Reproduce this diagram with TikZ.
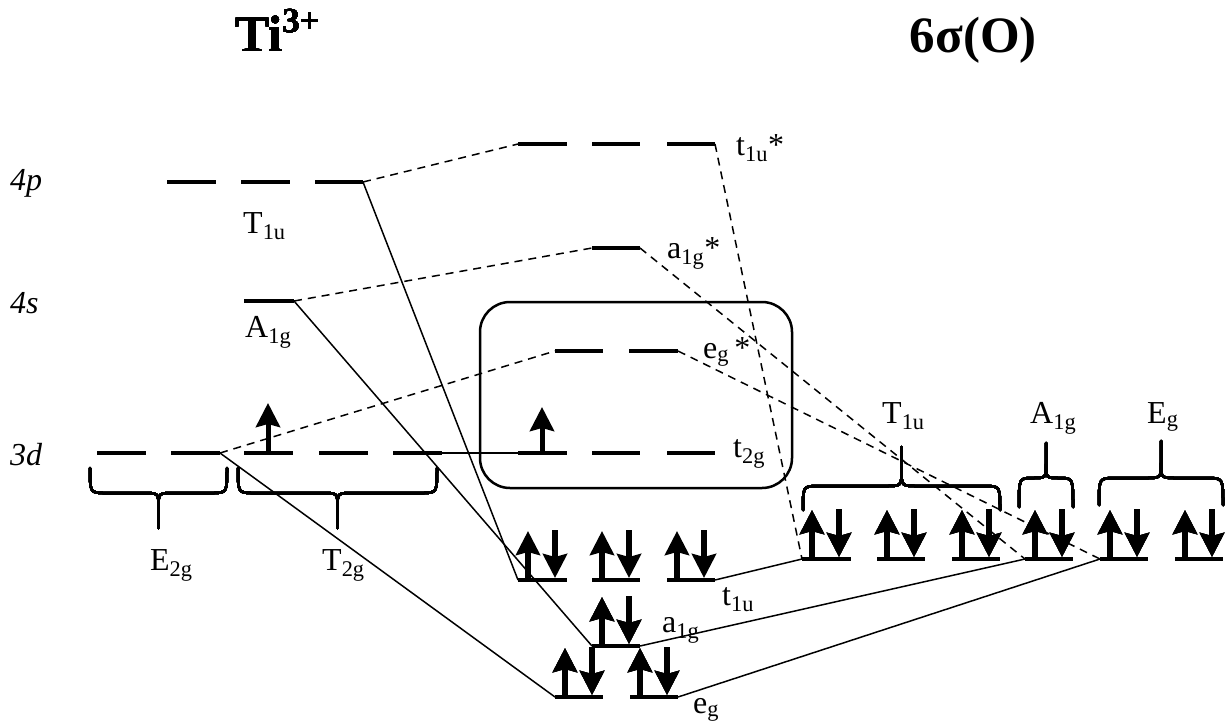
\documentclass[tikz,border=0pt]{standalone}
\usepackage{fontspec}
\setmainfont{Liberation Serif}
\usetikzlibrary{arrows.meta}
\tikzset{
 level/.style={line width=4pt},
 conn/.style={line width=1.5pt},
 dconn/.style={line width=1.5pt, dash pattern=on 8pt off 6pt},
 brc/.style={line width=2.5pt, line cap=round},
 el/.style={line width=5.5pt, -{Stealth[length=24pt,width=24pt,inset=3pt]}},
 lab/.style={font=\fontsize{32}{38}\selectfont, inner sep=0pt, anchor=base west},
 ilab/.style={lab, font=\fontsize{32}{38}\selectfont\itshape},
 ttl/.style={font=\fontsize{51}{60}\selectfont\bfseries, inner sep=0pt},
 frame/.style={line width=2.5pt, rounded corners=30pt},
}
\newcommand\epair[2]{\draw[el] (#1+10,#2) -- (#1+10,#2-49); \draw[el] (#1+37,#2-50) -- (#1+37,#2-2);}
\newcommand\mybrc[6]{%
 \draw[brc] (#1,#3) .. controls (#1,#4) and (#1,#4) .. (#1+#6,#4) -- ({(#1+#2)/2-#6},#4) .. controls ({(#1+#2)/2},#4) and ({(#1+#2)/2},#4) .. ({(#1+#2)/2},{#4+0.4*(#5-#4)}) -- ({(#1+#2)/2},#5);
 \draw[brc] ({(#1+#2)/2},{#4+0.4*(#5-#4)}) .. controls ({(#1+#2)/2},#4) and ({(#1+#2)/2},#4) .. ({(#1+#2)/2+#6},#4) -- (#2-#6,#4) .. controls (#2,#4) and (#2,#4) .. (#2,#3);
}
\begin{document}
\begin{tikzpicture}[x=1pt,y=-1pt]
\useasboundingbox (0,0) rectangle (1225,726);
% coordinates of levels
\coordinate (p4a-l) at (167,182); \coordinate (p4a-r) at (216,182);
\coordinate (p4b-l) at (241,182); \coordinate (p4b-r) at (290,182);
\coordinate (p4c-l) at (315,182); \coordinate (p4c-r) at (363,182);
\coordinate (s4-l) at (244,301); \coordinate (s4-r) at (294,301);
\coordinate (d1-l) at (97,453); \coordinate (d1-r) at (146,453);
\coordinate (d2-l) at (171,453); \coordinate (d2-r) at (220,453);
\coordinate (d3-l) at (244,453); \coordinate (d3-r) at (293,453);
\coordinate (d4-l) at (319,453); \coordinate (d4-r) at (368,453);
\coordinate (d5-l) at (393,453); \coordinate (d5-r) at (442,453);
\coordinate (ts1-l) at (518,144); \coordinate (ts1-r) at (567,144);
\coordinate (ts2-l) at (592,144); \coordinate (ts2-r) at (640,144);
\coordinate (ts3-l) at (667,144); \coordinate (ts3-r) at (715,144);
\coordinate (as-l) at (592,248); \coordinate (as-r) at (640,248);
\coordinate (es1-l) at (555,351); \coordinate (es1-r) at (603,351);
\coordinate (es2-l) at (629,351); \coordinate (es2-r) at (678,351);
\coordinate (tg1-l) at (518,453); \coordinate (tg1-r) at (567,453);
\coordinate (tg2-l) at (592,453); \coordinate (tg2-r) at (640,453);
\coordinate (tg3-l) at (667,453); \coordinate (tg3-r) at (715,453);
\coordinate (tb1-l) at (518,580); \coordinate (tb1-r) at (567,580);
\coordinate (tb2-l) at (592,580); \coordinate (tb2-r) at (640,580);
\coordinate (tb3-l) at (667,580); \coordinate (tb3-r) at (715,580);
\coordinate (ab-l) at (592,646); \coordinate (ab-r) at (640,646);
\coordinate (eb1-l) at (555,697); \coordinate (eb1-r) at (603,697);
\coordinate (eb2-l) at (630,697); \coordinate (eb2-r) at (678,697);
\coordinate (L1-l) at (802,559); \coordinate (L1-r) at (851,559);
\coordinate (L2-l) at (877,559); \coordinate (L2-r) at (925,559);
\coordinate (L3-l) at (952,559); \coordinate (L3-r) at (1000,559);
\coordinate (L4-l) at (1025,559); \coordinate (L4-r) at (1073,559);
\coordinate (L5-l) at (1100,559); \coordinate (L5-r) at (1148,559);
\coordinate (L6-l) at (1175,559); \coordinate (L6-r) at (1223,559);
% box
\draw[frame] (480,302) rectangle (792,488);
% connectors
\draw[conn] (p4c-r) -- (tb1-l);
\draw[conn] (s4-r) -- (ab-l);
\draw[conn] (d2-r) -- (eb1-l);
\draw[conn] (d5-r) -- (tg1-l);
\draw[conn] (tb3-r) -- (L1-l);
\draw[conn] (ab-r) -- (L4-l);
\draw[conn] (eb2-r) -- (L5-l);
\draw[dconn] (p4c-r) -- (ts1-l);
\draw[dconn] (s4-r) -- (as-l);
\draw[dconn] (d2-r) -- (es1-l);
\draw[dconn] (ts3-r) -- (L1-l);
\draw[dconn] (as-r) -- (L4-l);
\draw[dconn] (es2-r) -- (L5-l);
% levels
\foreach \n in {p4a,p4b,p4c,s4,d1,d2,d3,d4,d5,ts1,ts2,ts3,as,es1,es2,tg1,tg2,tg3,tb1,tb2,tb3,ab,eb1,eb2,L1,L2,L3,L4,L5,L6}
  \draw[level] (\n-l) -- (\n-r);
% electrons
\draw[el, line width=5pt] (268,453) -- (268,403);
\draw[el, line width=5pt] (542,453) -- (542,407);
\foreach \x in {518,592,667} \epair{\x}{580}
\epair{592}{646}
\epair{555}{697}
\epair{630}{697}
\foreach \x in {802,877,952,1025,1100,1175} \epair{\x}{559}
% braces
\mybrc{90}{227}{468}{493}{528}{16}
\mybrc{238}{437}{468}{493}{528}{16}
\mybrc{803}{1000}{510}{486}{447}{16}
\mybrc{1019}{1073}{507}{478}{443}{13.5}
\mybrc{1099}{1223}{505}{478}{441}{16}
% titles
\node[ttl, anchor=base west] (ti) at (235,51) {Ti\raisebox{0.36em}{\fontsize{35}{35}\selectfont 3+}};
\node[ttl, anchor=base east] (ox) at (1037,52) {6σ(O)};
% labels
\node[ilab] (l4p) at (10,190) {4p};
\node[ilab] (l4s) at (10,313) {4s};
\node[ilab] (l3d) at (10,465) {3d};
\node[lab] (lT1u) at (243,233) {T\textsubscript{1u}};
\node[lab] (lA1g) at (245,337) {A\textsubscript{1g}};
\node[lab] (lE2g) at (150,570) {E\textsubscript{2g}};
\node[lab] (lT2g) at (322,570) {T\textsubscript{2g}};
\node[lab] (lts) at (736,155) {t\textsubscript{1u}*};
\node[lab] (las) at (667,258) {a\textsubscript{1g}*};
\node[lab] (les) at (703,358) {e\textsubscript{g}\,*};
\node[lab] (ltg) at (733,457) {t\textsubscript{2g}};
\node[lab] (ltb) at (722,605) {t\textsubscript{1u}};
\node[lab] (lab) at (662,632) {a\textsubscript{1g}};
\node[lab] (leb) at (693,713) {e\textsubscript{g}};
\node[lab] (rT1u) at (882,423) {T\textsubscript{1u}};
\node[lab] (rA1g) at (1030,423) {A\textsubscript{1g}};
\node[lab] (rEg) at (1147,423) {E\textsubscript{g}};
\end{tikzpicture}
\end{document}
